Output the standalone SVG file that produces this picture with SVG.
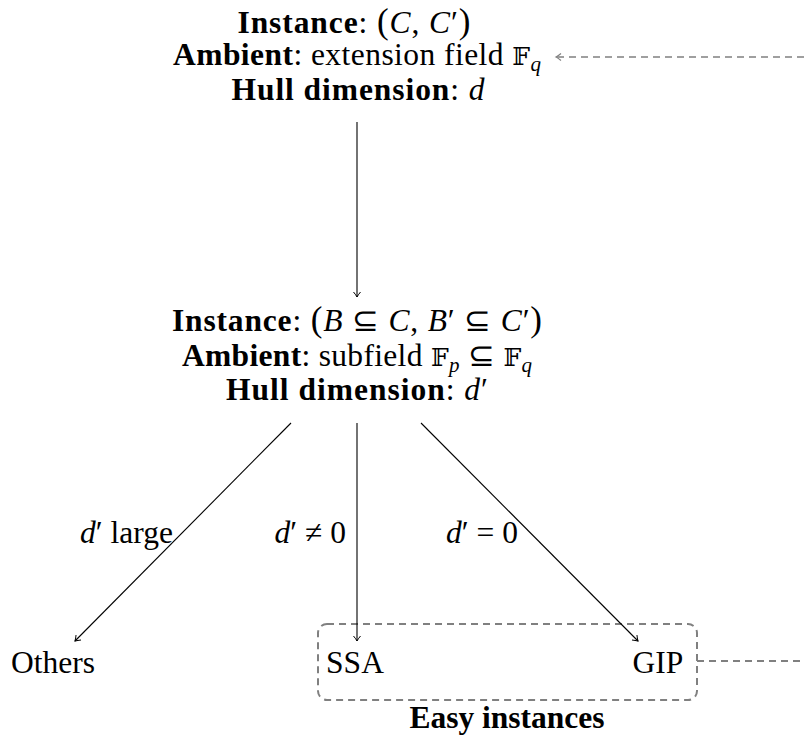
<svg xmlns="http://www.w3.org/2000/svg" width="804" height="740" viewBox="0 0 804 740">
<defs>
<style>
.t{font-family:"Liberation Serif","Times New Roman",serif;font-size:31.5px;fill:#000}
.b{font-weight:bold}
.i{font-style:italic}
.bb{font-family:"DejaVu Serif","DejaVu Sans",serif;font-style:normal;font-weight:normal;font-size:25px}
.sub{font-size:21px;font-style:italic}
.par{font-size:35px}
.edge{stroke:#000;stroke-width:1.1;fill:none;marker-end:url(#arr)}
.dash{stroke:#808080;stroke-width:2;stroke-dasharray:7 5;fill:none}
.dashthin{stroke:#808080;stroke-width:1.5;stroke-dasharray:7 5;fill:none;marker-end:url(#garr)}
</style>
<marker id="arr" viewBox="-7 -5 9 10" refX="0" refY="0" markerWidth="9" markerHeight="10" markerUnits="userSpaceOnUse" orient="auto">
<path d="M-5,-3.5 Q-2,-1 0,0 Q-2,1 -5,3.5" fill="none" stroke="#000" stroke-width="1"/>
</marker>
<marker id="garr" viewBox="-7 -5 9 10" refX="0" refY="0" markerWidth="9" markerHeight="10" markerUnits="userSpaceOnUse" orient="auto">
<path d="M-5,-3.5 Q-2,-1 0,0 Q-2,1 -5,3.5" fill="none" stroke="#808080" stroke-width="1.2"/>
</marker>
</defs>
<rect width="804" height="740" fill="#fff"/>

<g id="node-top">
<text class="t" x="354" y="33" text-anchor="middle" textLength="233" lengthAdjust="spacing"><tspan class="b">Instance</tspan>: <tspan class="par">(</tspan><tspan class="i">C</tspan>, <tspan class="i">C</tspan>′<tspan class="par">)</tspan></text>
<text class="t" x="357" y="65" text-anchor="middle" textLength="368" lengthAdjust="spacing"><tspan class="b">Ambient</tspan>: extension field <tspan class="bb">𝔽</tspan><tspan class="sub" dy="6">q</tspan></text>
<text class="t" x="358" y="100" text-anchor="middle" textLength="253" lengthAdjust="spacing"><tspan class="b">Hull dimension</tspan>: <tspan class="i">d</tspan></text>
</g>

<g id="node-mid">
<text class="t" x="357" y="331" text-anchor="middle" textLength="370" lengthAdjust="spacing"><tspan class="b">Instance</tspan>: <tspan class="par">(</tspan><tspan class="i">B</tspan> ⊆ <tspan class="i">C</tspan>, <tspan class="i">B</tspan>′ ⊆ <tspan class="i">C</tspan>′<tspan class="par">)</tspan></text>
<text class="t" x="357" y="366" text-anchor="middle" textLength="350" lengthAdjust="spacing"><tspan class="b">Ambient</tspan>: subfield <tspan class="bb">𝔽</tspan><tspan class="sub" dy="6">p</tspan><tspan dy="-6"> ⊆ </tspan><tspan class="bb">𝔽</tspan><tspan class="sub" dy="6">q</tspan></text>
<text class="t" x="357" y="400" text-anchor="middle" textLength="262" lengthAdjust="spacing"><tspan class="b">Hull dimension</tspan>: <tspan class="i">d</tspan>′</text>
</g>

<g id="node-others">
<text class="t" x="53" y="673" text-anchor="middle">Others</text>
</g>

<g id="easy-instances">
<rect class="dash" x="318" y="624" width="379" height="76" rx="9"/>
<text class="t b" x="507" y="728" text-anchor="middle">Easy instances</text>
</g>

<g id="node-ssa">
<text class="t" x="355" y="673" text-anchor="middle">SSA</text>
</g>

<g id="node-gip">
<text class="t" x="658" y="673" text-anchor="middle">GIP</text>
</g>

<g id="connectors">
<line class="edge" x1="357" y1="122" x2="357" y2="297"/>
<line class="edge" x1="291" y1="423" x2="75" y2="641"/>
<line class="edge" x1="357" y1="423" x2="357" y2="641"/>
<line class="edge" x1="421" y1="423" x2="638" y2="641"/>
<path class="dash" d="M697,661 L804,661"/>
<path class="dashthin" d="M804,57 L556,57"/>
<text class="t" x="173" y="543" text-anchor="end"><tspan class="i">d</tspan>′ large</text>
<text class="t" x="346" y="543" text-anchor="end"><tspan class="i">d</tspan>′ ≠ 0</text>
<text class="t" x="518" y="543" text-anchor="end"><tspan class="i">d</tspan>′ = 0</text>
</g>
</svg>
